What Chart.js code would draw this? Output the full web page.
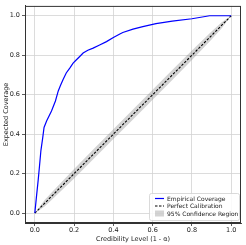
<!DOCTYPE html>
<html>
<head>
<meta charset="utf-8">
<script src="https://cdn.jsdelivr.net/npm/chart.js@4/dist/chart.umd.min.js"></script>
<style>
  html, body { margin: 0; padding: 0; background: #fff; }
  #wrap { width: 246px; height: 245px; }
</style>
</head>
<body>
<div id="wrap"><canvas id="graph" width="246" height="245"></canvas></div>
<script>
// empirical coverage curve
var credLevels = [0, 0.008, 0.017, 0.024, 0.031, 0.04, 0.047, 0.06, 0.085, 0.105, 0.119,
    0.13, 0.144, 0.16, 0.178, 0.195, 0.212, 0.23, 0.246, 0.27, 0.297, 0.33, 0.365, 0.4, 0.433, 0.448,
    0.5, 0.55, 0.617, 0.7, 0.8, 0.89, 1.0];
var coverage = [0, 0.08, 0.166, 0.24, 0.317, 0.38, 0.434, 0.467, 0.518, 0.568, 0.618,
    0.645, 0.677, 0.71, 0.735, 0.76, 0.777, 0.795, 0.811, 0.825, 0.836, 0.852, 0.869, 0.89, 0.908, 0.915,
    0.932, 0.945, 0.96, 0.973, 0.985, 1.0, 1.0];

// confidence band around the diagonal
var bandX = [0, 0.05, 0.1, 0.2, 0.3, 0.4, 0.5, 0.6, 0.7, 0.8, 0.9, 0.95, 1.0];
var bandLow = [0, 0.034, 0.08, 0.176, 0.275, 0.375, 0.475, 0.575, 0.675, 0.776, 0.88, 0.934, 1.0];
var bandHigh = [0, 0.066, 0.12, 0.224, 0.325, 0.425, 0.525, 0.625, 0.725, 0.824, 0.92, 0.966, 1.0];

var diagX = [0, 1];
var tickVals = [0, 0.2, 0.4, 0.6, 0.8, 1.0];

var legendItems = ['Empirical Coverage', 'Perfect Calibration', '95% Confidence Region'];

function pts(xs, ys) {
    return xs.map(function (x, i) { return { x: x, y: ys[i] }; });
}

var font = { family: 'DejaVu Sans', size: 6.5 };
var bandColor = 'rgba(128,128,128,0.35)';

// top/right spines + legend box, drawn matplotlib style
var frameAndLegend = {
    id: 'frameAndLegend',
    afterDraw: function (chart) {
        var ctx = chart.ctx;
        var a = chart.chartArea;
        ctx.save();
        ctx.strokeStyle = '#333';
        ctx.lineWidth = 1;
        ctx.strokeRect(a.left + 0.5, a.top + 0.5, a.right - a.left - 1, a.bottom - a.top - 1);

        var bx = 149, by = 193, bw = 90, bh = 27;
        ctx.fillStyle = 'rgba(255,255,255,0.85)';
        ctx.strokeStyle = '#d0d0d0';
        ctx.lineWidth = 0.8;
        ctx.beginPath();
        ctx.roundRect(bx + 0.5, by + 0.5, bw, bh, 2);
        ctx.fill();
        ctx.stroke();

        var rows = [198.5, 206, 213.5];
        ctx.font = '6px "DejaVu Sans"';
        ctx.textBaseline = 'middle';
        ctx.fillStyle = '#222';
        legendItems.forEach(function (t, i) {
            ctx.fillText(t, 167, rows[i] + 0.5);
        });
        // handles
        ctx.strokeStyle = '#0000ff';
        ctx.lineWidth = 1.2;
        ctx.setLineDash([]);
        ctx.beginPath(); ctx.moveTo(155, rows[0]); ctx.lineTo(164, rows[0]); ctx.stroke();
        ctx.strokeStyle = '#000';
        ctx.lineWidth = 1;
        ctx.setLineDash([2.5, 1.5]);
        ctx.beginPath(); ctx.moveTo(155, rows[1]); ctx.lineTo(164, rows[1]); ctx.stroke();
        ctx.setLineDash([]);
        ctx.fillStyle = bandColor;
        ctx.fillRect(155, rows[2] - 3, 9, 6);
        ctx.restore();
    }
};

var context = document.querySelector('#graph').getContext('2d');

var chart = new Chart(context, {
    type: 'line',
    data: {
        datasets: [
            {
                label: 'band low',
                data: pts(bandX, bandLow),
                borderWidth: 0,
                pointRadius: 0,
                fill: false,
                order: 3
            },
            {
                label: legendItems[2],
                data: pts(bandX, bandHigh),
                borderWidth: 0,
                pointRadius: 0,
                backgroundColor: bandColor,
                fill: '-1',
                order: 3
            },
            {
                label: legendItems[1],
                data: pts(diagX, diagX),
                borderColor: '#000',
                borderWidth: 1.1,
                borderDash: [2.5, 1.5],
                pointRadius: 0,
                fill: false,
                order: 2
            },
            {
                label: legendItems[0],
                data: pts(credLevels, coverage),
                borderColor: '#0000ff',
                borderWidth: 1.2,
                pointRadius: 0,
                fill: false,
                tension: 0,
                order: 1
            }
        ]
    },
    options: {
        responsive: false,
        animation: false,
        layout: { padding: { top: 4, right: 5, left: 0, bottom: 0 } },
        plugins: {
            legend: { display: false },
            tooltip: { enabled: false }
        },
        scales: {
            x: {
                type: 'linear',
                min: -0.05,
                max: 1.05,
                afterBuildTicks: function (s) { s.ticks = tickVals.map(function (v) { return { value: v }; }); },
                afterFit: function (s) { s.height = 22; },
                ticks: {
                    font: font,
                    color: '#222',
                    padding: 0,
                    maxRotation: 0,
                    callback: function (v) { return v.toFixed(1); }
                },
                grid: { color: '#d3d3d3', lineWidth: 0.8, tickLength: 3, tickColor: '#333' },
                border: { display: true, color: '#333', width: 1 },
                title: {
                    display: true,
                    text: 'Credibility Level (1 - α)',
                    font: font,
                    color: '#222',
                    padding: { top: 0, bottom: 2 }
                }
            },
            y: {
                type: 'linear',
                min: -0.05,
                max: 1.05,
                afterBuildTicks: function (s) { s.ticks = tickVals.map(function (v) { return { value: v }; }); },
                afterFit: function (s) { s.width = 25; },
                ticks: {
                    font: font,
                    color: '#222',
                    padding: 2,
                    callback: function (v) { return v.toFixed(1); }
                },
                grid: { color: '#d3d3d3', lineWidth: 0.8, tickLength: 3, tickColor: '#333' },
                border: { display: true, color: '#333', width: 1 },
                title: {
                    display: true,
                    text: 'Expected Coverage',
                    font: font,
                    color: '#222',
                    padding: { top: 2, bottom: 0 }
                }
            }
        }
    },
    plugins: [frameAndLegend]
});
</script>
</body>
</html>
